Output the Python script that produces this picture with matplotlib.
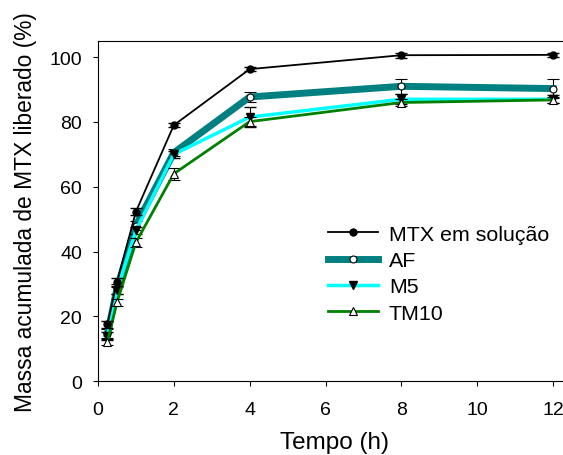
import matplotlib.pyplot as plt

plt.rcParams['font.family'] = ['Liberation Sans', 'DejaVu Sans']

tempo = [0.25, 0.5, 1, 2, 4, 8, 12]
mtx = [17.5, 30.5, 52.3, 79.0, 96.3, 100.6, 100.7]
mtx_err = [1.0, 1.2, 1.0, 0.6, 0.6, 0.8, 0.5]
af = [14.5, 28.5, 48.0, 70.5, 87.7, 91.0, 90.3]
af_err = [1.5, 1.5, 1.5, 1.0, 1.5, 2.3, 3.0]
m5 = [14.0, 28.0, 46.5, 70.0, 81.5, 87.0, 87.0]
m5_err = [1.2, 1.2, 1.2, 1.0, 3.2, 1.5, 1.2]
tm10 = [12.2, 24.3, 42.8, 64.0, 80.1, 86.0, 86.8]
tm10_err = [1.2, 1.2, 1.5, 1.8, 1.5, 1.0, 1.0]

fig = plt.figure(figsize=(5.63, 4.56), dpi=100)
ax = fig.add_axes([0.174, 0.162, 0.842, 0.746])

ax.errorbar(tempo, af, yerr=af_err, color='#008080', lw=5, marker='o', ms=5,
            mfc='white', mec='black', mew=0.8, ecolor='black', elinewidth=0.8,
            capsize=4, label='AF', zorder=2)
ax.errorbar(tempo, m5, yerr=m5_err, color='#00ffff', lw=2.5, marker='v', ms=6,
            mfc='black', mec='black', ecolor='black', elinewidth=0.8,
            capsize=4, label='M5', zorder=3)
ax.errorbar(tempo, tm10, yerr=tm10_err, color='#008000', lw=2, marker='^', ms=6,
            mfc='white', mec='black', mew=0.8, ecolor='black', elinewidth=0.8,
            capsize=4, label='TM10', zorder=4)
ax.errorbar(tempo, mtx, yerr=mtx_err, color='black', lw=1.3, marker='o', ms=5,
            mfc='black', mec='black', ecolor='black', elinewidth=0.8,
            capsize=4, label='MTX em solução', zorder=5)

ax.set_xlim(0, 12.5)
ax.set_ylim(0, 105)
ax.spines['right'].set_visible(False)
ax.set_xticks([0, 2, 4, 6, 8, 10, 12])
ax.set_yticks([0, 20, 40, 60, 80, 100])
ax.tick_params(labelsize=14, direction='out', length=3.5)
ax.tick_params(axis='x', pad=11)
ax.tick_params(axis='y', pad=8)
ax.set_xlabel('Tempo (h)', fontsize=17.5, labelpad=9)
ax.set_ylabel('Massa acumulada de MTX liberado (%)', fontsize=16.4, labelpad=9)

handles, labels = ax.get_legend_handles_labels()
order = [3, 0, 1, 2]
ax.legend([handles[i][0] for i in order], [labels[i] for i in order],
          loc='center left', bbox_to_anchor=(0.485, 0.316), frameon=False,
          fontsize=15.4, handlelength=2.35, handletextpad=0.5, labelspacing=0.34,
          borderpad=0, borderaxespad=0)

fig.savefig('out.png', dpi=100)
